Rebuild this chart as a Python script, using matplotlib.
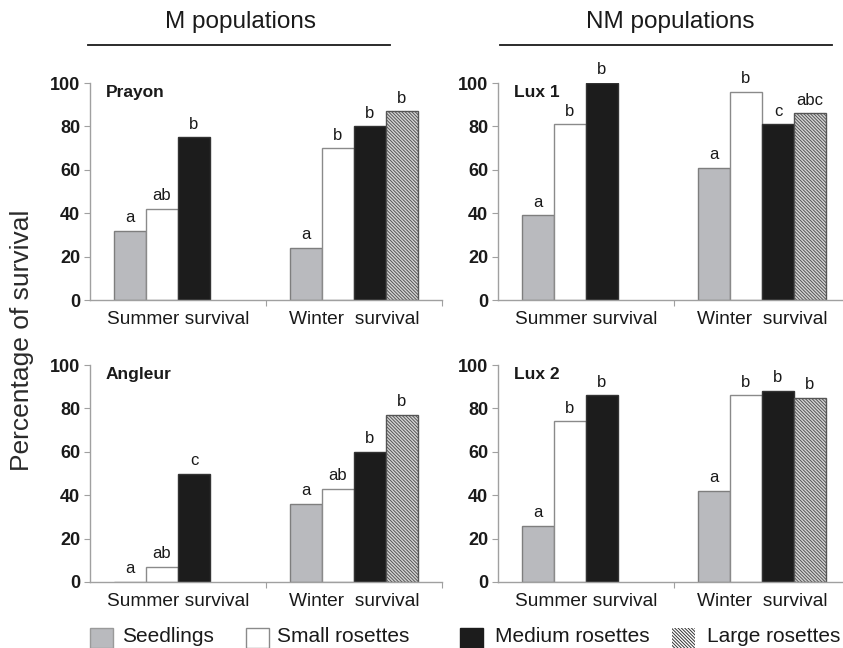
import matplotlib.pyplot as plt
from matplotlib.patches import Rectangle
from matplotlib.lines import Line2D

plt.rcParams['font.family'] = ['Liberation Sans', 'DejaVu Sans']
plt.rcParams['hatch.linewidth'] = 0.7

seasons = ["Summer survival", "Winter  survival"]
stages = ["Seedlings", "Small rosettes", "Medium rosettes", "Large rosettes"]
sites = ["Prayon", "Lux 1", "Angleur", "Lux 2"]

# survival (%) per stage, summer has no large rosettes
prayon_summer = [32, 42, 75]
prayon_winter = [24, 70, 80, 87]
lux1_summer = [39, 81, 100]
lux1_winter = [61, 96, 81, 86]
angleur_summer = [0, 7, 50]
angleur_winter = [36, 43, 60, 77]
lux2_summer = [26, 74, 86]
lux2_winter = [42, 86, 88, 85]

# significance letters
prayon_let = [["a", "ab", "b"], ["a", "b", "b", "b"]]
lux1_let = [["a", "b", "b"], ["a", "b", "c", "abc"]]
angleur_let = [["a", "ab", "c"], ["a", "ab", "b", "b"]]
lux2_let = [["a", "b", "b"], ["a", "b", "b", "b"]]

panels = [
    (prayon_summer, prayon_winter, prayon_let),
    (lux1_summer, lux1_winter, lux1_let),
    (angleur_summer, angleur_winter, angleur_let),
    (lux2_summer, lux2_winter, lux2_let),
]

faces = ['#b9babe', 'white', '#1c1c1c', '#d6d6d6']
edges = ['#7e7e7e', '#8a8a8a', '#333333', '#555555']
hatches = [None, None, None, '\\' * 10]

W, H = 843, 648
fig = plt.figure(figsize=(W / 100, H / 100), dpi=100)

lefts = [90, 498, 90, 498]
bottoms = [300, 300, 582, 582]
bw = 32 / 176.0

for k, (summer, winter, lets) in enumerate(panels):
    ax = fig.add_axes([lefts[k] / W, 1 - bottoms[k] / H, 352 / W, 217 / H])
    for c, vals in enumerate([summer, winter]):
        for i, v in enumerate(vals):
            x = c + (i - 1.5) * bw
            ax.bar(x, v, width=bw, color=faces[i], edgecolor=edges[i],
                   hatch=hatches[i], linewidth=1.0, zorder=2)
            ax.annotate(lets[c][i], (x, v), xytext=(0, 4),
                        textcoords='offset points', ha='center', va='bottom',
                        fontsize=12, color='#1a1a1a', annotation_clip=False)
    ax.set_xlim(-0.5, 1.5)
    ax.set_ylim(0, 100)
    ax.set_yticks([0, 20, 40, 60, 80, 100])
    ax.spines['top'].set_visible(False)
    ax.spines['right'].set_visible(False)
    for s in ['left', 'bottom']:
        ax.spines[s].set_color('#a0a0a0')
        ax.spines[s].set_linewidth(1.0)
        ax.spines[s].set_zorder(3)
    ax.tick_params(axis='y', length=4, width=0.8, color='#a0a0a0',
                   labelsize=13, pad=3, labelcolor='#1a1a1a')
    for lab in ax.get_yticklabels():
        lab.set_fontweight('bold')
    ax.set_xticks([0, 1])
    ax.set_xticklabels(seasons, fontsize=13.8, color='#1a1a1a')
    ax.set_xticks([0.5, 1.5], minor=True)
    ax.tick_params(axis='x', which='major', length=0, pad=8)
    ax.tick_params(axis='x', which='minor', length=4, width=0.8, color='#a0a0a0')
    ax.text(0.045, 0.955, sites[k], transform=ax.transAxes, fontsize=12.5,
            fontweight='bold', va='center', color='#1a1a1a')

# group headers
fig.text(240 / W, 1 - 22 / H, "M populations", ha='center', va='center',
         fontsize=17.5, color='#1a1a1a')
fig.text(670 / W, 1 - 22 / H, "NM populations", ha='center', va='center',
         fontsize=17.5, color='#1a1a1a')
fig.add_artist(Line2D([88 / W, 390 / W], [1 - 45 / H] * 2, color='#1a1a1a', lw=1.3))
fig.add_artist(Line2D([500 / W, 832 / W], [1 - 45 / H] * 2, color='#1a1a1a', lw=1.3))

fig.text(22 / W, 1 - 340 / H, "Percentage of survival", rotation=90,
         ha='center', va='center', fontsize=19, color='#2a2a2a')

# legend
patch_x = [90, 246, 460, 672]
text_x = [122, 277, 495, 707]
leg_faces = ['#b9babe', 'white', '#1c1c1c', 'white']
leg_edges = ['#9a9a9a', '#8a8a8a', '#1c1c1c', '#333333']
for i, name in enumerate(stages):
    r = Rectangle((patch_x[i] / W, 1 - 648 / H), 23 / W, 20 / H,
                  facecolor=leg_faces[i], edgecolor=leg_edges[i],
                  hatch=hatches[i], linewidth=1.0 if i < 3 else 0)
    fig.add_artist(r)
    fig.text(text_x[i] / W, 1 - 637 / H, name, ha='left', va='center',
             fontsize=15, color='#1a1a1a')

fig.savefig('out.png', dpi=100)
